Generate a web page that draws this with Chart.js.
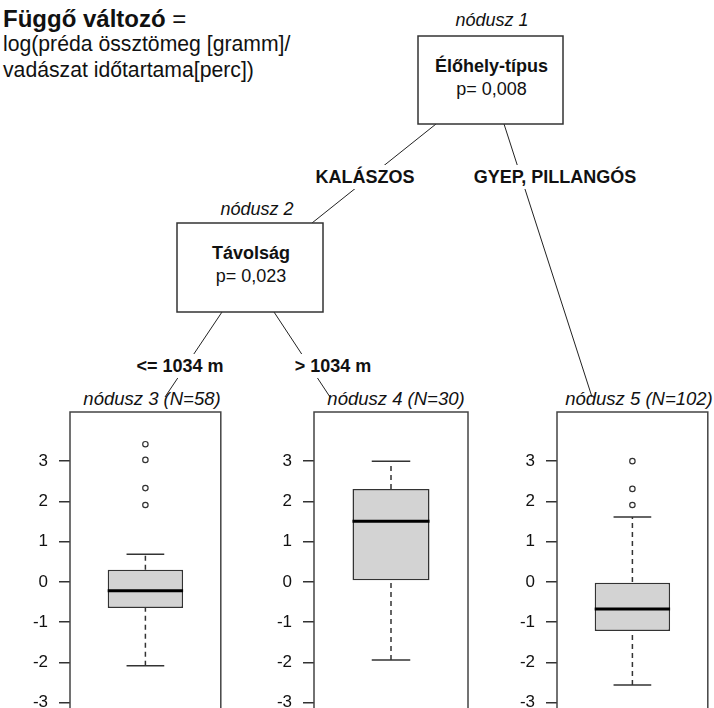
<!DOCTYPE html>
<html>
<head>
<meta charset="utf-8">
<script src="https://cdn.jsdelivr.net/npm/chart.js@4.4.1/dist/chart.umd.min.js"></script>
<style>
  html, body { margin: 0; padding: 0; background: #fff; overflow: hidden; }
  #wrap { position: relative; width: 714px; height: 708px; overflow: hidden; }
  #tree { position: absolute; left: 0; top: 0; }
  canvas.leaf { position: absolute; }
</style>
</head>
<body>
<div id="wrap">
  <svg id="tree" width="714" height="708" xmlns="http://www.w3.org/2000/svg"></svg>
  <canvas class="leaf" id="leaf0"></canvas>
  <canvas class="leaf" id="leaf1"></canvas>
  <canvas class="leaf" id="leaf2"></canvas>
</div>
<script>
// tree labels
const nodeNames = ['nódusz 1', 'nódusz 2'];
const splitVars = ['Élőhely-típus', 'Távolság'];
const pValues = ['p= 0,008', 'p= 0,023'];
const edgeLabels = ['KALÁSZOS', 'GYEP, PILLANGÓS', '<= 1034 m', '> 1034 m'];

// leaf boxplots
const leafNames = ['nódusz 3 (N=58)', 'nódusz 4 (N=30)', 'nódusz 5 (N=102)'];
const lowerWhisker = [-2.08, -1.94, -2.56];
const q1 = [-0.65, 0.04, -1.22];
const median = [-0.22, 1.51, -0.67];
const q3 = [0.30, 2.31, 0.00];
const upperWhisker = [0.69, 3.00, 1.61];
const outliers = [[3.42, 3.03, 2.33, 1.91], [], [3.00, 2.31, 1.91]];
const yTicks = [-3, -2, -1, 0, 1, 2, 3];

const FONT = '"Liberation Sans", Arial, sans-serif';
Chart.defaults.font.family = FONT;

// ---- tree (svg) ----
const svg = document.getElementById('tree');
const NS = 'http://www.w3.org/2000/svg';

function add(tag, attrs, text) {
    const e = document.createElementNS(NS, tag);
    for (const k in attrs) e.setAttribute(k, attrs[k]);
    if (text !== undefined) e.textContent = text;
    svg.appendChild(e);
    return e;
}

function txt(x, y, s, size, weight, style, anchor) {
    return add('text', {
        x: x, y: y, 'font-family': FONT, 'font-size': size,
        'font-weight': weight || 'normal', 'font-style': style || 'normal',
        'text-anchor': anchor || 'middle', fill: '#111'
    }, s);
}

// edges
const edges = [
    [436, 124, 312, 223],
    [504, 124, 592, 397],
    [222, 312, 165, 397],
    [274, 312, 330, 397]
];
edges.forEach(e => add('line', { x1: e[0], y1: e[1], x2: e[2], y2: e[3], stroke: '#222', 'stroke-width': 1 }));

// edge labels with white background
const edgePos = [[365, 183], [555, 183], [180, 372], [333, 372]];
edgeLabels.forEach((s, i) => {
    const t = txt(edgePos[i][0], edgePos[i][1], s, 18, 'bold');
    const b = t.getBBox();
    const r = add('rect', { x: b.x - 3, y: edgePos[i][1] - 18, width: b.width + 6, height: 24, fill: '#fff' });
    svg.insertBefore(r, t);
});

// inner nodes
const nodeBoxes = [[418, 36, 145, 88], [177, 223, 146, 89]];
const nodeNamePos = [[492, 26], [257, 215]];
nodeBoxes.forEach((b, i) => {
    add('rect', { x: b[0], y: b[1], width: b[2], height: b[3], fill: '#fff', stroke: '#333', 'stroke-width': 1.5 });
    const cx = b[0] + b[2] / 2 + 1;
    txt(nodeNamePos[i][0], nodeNamePos[i][1], nodeNames[i], 18, 'normal', 'italic');
    txt(cx, b[1] + 36, splitVars[i], 18, 'bold');
    txt(cx, b[1] + 59, pValues[i], 18);
});

// response description
const t1 = txt(3, 27, 'Függő változó', 24, 'bold', 'normal', 'start');
const eq = document.createElementNS(NS, 'tspan');
eq.setAttribute('font-weight', 'normal');
eq.textContent = ' =';
t1.appendChild(eq);
txt(3, 51, 'log(préda össztömeg [gramm]/', 21.2, 'normal', 'normal', 'start');
txt(3, 77, 'vadászat időtartama[perc])', 21.2, 'normal', 'normal', 'start');

// ---- leaf boxplots (Chart.js) ----
const PLOT_W = 154;
const PAD = 24;
const leafLeft = [70, 314, 557];

const framePlugin = {
    id: 'frame',
    beforeDatasetsDraw(chart) {
        const a = chart.chartArea, c = chart.ctx;
        c.save();
        c.strokeStyle = '#444';
        c.lineWidth = 1.5;
        c.strokeRect(a.left, a.top, a.right - a.left, a.bottom - a.top);
        c.restore();
    }
};

function seg(data, opts) {
    return Object.assign({
        type: 'line', data: data,
        borderColor: '#333', borderWidth: 1.5, pointRadius: 0, fill: false, order: 1
    }, opts || {});
}

leafNames.forEach((name, i) => {
    const left = leafLeft[i];
    txt(left + PLOT_W / 2 + 5, 405, name, 18.5, 'normal', 'italic');

    const canvas = document.getElementById('leaf' + i);
    canvas.width = PLOT_W + 62;
    canvas.height = PAD * 2 + 331;
    canvas.style.left = (left - 60) + 'px';
    canvas.style.top = (412 - PAD) + 'px';

    new Chart(canvas, {
        data: {
            datasets: [
                {
                    type: 'bar', data: [{ x: 0.5, y: [q1[i], q3[i]] }],
                    backgroundColor: '#d3d3d3', borderColor: '#333', borderWidth: 1.5,
                    borderSkipped: false, categoryPercentage: 1, barPercentage: 0.5, order: 3
                },
                seg([{ x: 0.5, y: q3[i] }, { x: 0.5, y: upperWhisker[i] }], { borderDash: [5, 4], order: 2 }),
                seg([{ x: 0.5, y: lowerWhisker[i] }, { x: 0.5, y: q1[i] }], { borderDash: [5, 4], order: 2 }),
                seg([{ x: 0.375, y: upperWhisker[i] }, { x: 0.625, y: upperWhisker[i] }]),
                seg([{ x: 0.375, y: lowerWhisker[i] }, { x: 0.625, y: lowerWhisker[i] }]),
                seg([{ x: 0.25, y: median[i] }, { x: 0.75, y: median[i] }], { borderColor: '#000', borderWidth: 3, order: 0 }),
                {
                    type: 'scatter',
                    data: outliers[i].map(v => ({ x: 0.5, y: v })),
                    pointRadius: 2.7, borderWidth: 1.2, borderColor: '#333',
                    backgroundColor: '#fff', order: 0
                }
            ]
        },
        options: {
            responsive: false,
            animation: false,
            layout: { padding: { top: PAD, bottom: PAD, left: 0, right: 2 } },
            plugins: { legend: { display: false }, tooltip: { enabled: false } },
            scales: {
                x: {
                    type: 'linear', display: false, min: 0, max: 1, offset: false,
                    afterBuildTicks: s => { s.ticks = [{ value: 0 }, { value: 1 }]; }
                },
                y: {
                    type: 'linear',
                    min: -4, max: 4.22,
                    afterBuildTicks: s => { s.ticks = yTicks.map(v => ({ value: v })); },
                    afterFit: s => { s.width = 60; },
                    border: { display: false },
                    grid: { drawOnChartArea: false, tickLength: 11, tickColor: '#333', lineWidth: 1.5 },
                    ticks: { padding: 11, color: '#111', font: { size: 17 } }
                }
            }
        },
        plugins: [framePlugin]
    });
});
</script>
</body>
</html>
